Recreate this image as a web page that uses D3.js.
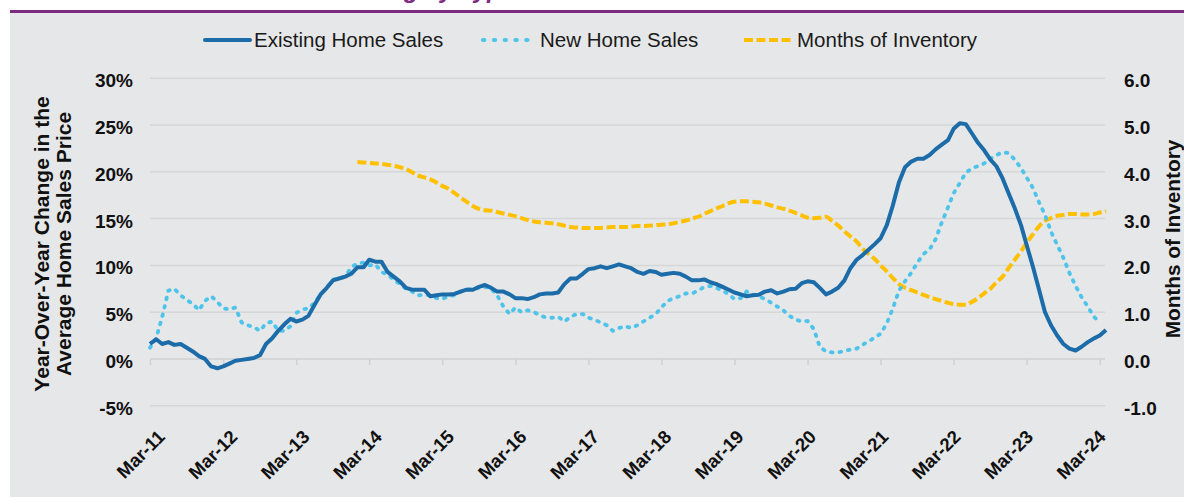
<!DOCTYPE html>
<html>
<head>
<meta charset="utf-8">
<script src="https://cdn.jsdelivr.net/npm/d3@7"></script>
<style>
  body { margin: 0; background: #fff; }
  svg { display: block; font-family: "Liberation Sans", Arial, sans-serif; }
</style>
</head>
<body>
<svg id="chart" width="1184" height="498"></svg>
<script>
// monthly values, existing starts Mar-11
const existingStart = "2011-03";
const existing = [1.6,2.1,1.6,1.8,1.5,1.6,1.2,0.8,0.3,0.0, -0.8,-1.0,-0.8,-0.5,-0.2,-0.1,0.0,0.1,0.4,1.6,
    2.2,3.0,3.7,4.3,4.0,4.2,4.6,5.8,6.9,7.6, 8.4,8.6,8.8,9.1,9.8,9.8,10.6,10.4,10.4,9.3,
    8.8,8.3,7.6,7.4,7.4,7.4,6.7,6.8,6.9,6.9, 6.95,7.2,7.4,7.4,7.7,7.9,7.6,7.2,7.2,6.9,
    6.5,6.5,6.4,6.6,6.9,7.0,7.0,7.1,8.0,8.6, 8.6,9.1,9.6,9.7,9.9,9.7,9.9,10.1,9.9,9.7,
    9.3,9.1,9.4,9.3,9.0,9.1,9.2,9.1,8.8,8.4, 8.4,8.5,8.2,8.0,7.7,7.4,7.1,6.9,6.7,6.8,
    6.85,7.2,7.35,7.0,7.2,7.45,7.5,8.1,8.3,8.2, 7.6,6.9,7.2,7.6,8.4,9.7,10.6,11.1,11.7,12.3,
    12.9,14.3,16.4,18.9,20.5,21.1,21.4,21.4,21.8,22.4, 22.9,23.4,24.6,25.2,25.1,24.1,23.1,22.3,21.3,20.6,
    19.3,17.7,16.1,14.3,12.2,9.9,7.5,5.0,3.6,2.5, 1.6,1.1,0.9,1.3,1.8,2.2,2.5,3.1];

const newStart = "2011-03";
const newSales = [1.2,2.2,4.5,7.3,7.5,6.8,6.3,5.9,5.2,6.2, 6.7,6.1,5.4,5.3,5.5,3.9,3.6,3.4,3.0,3.8,
    4.0,3.0,3.0,3.5,4.9,5.3,5.4,6.0,6.9,7.6, 8.5,8.6,8.8,9.8,10.2,10.3,10.0,10.1,9.3,9.0,
    8.5,8.0,7.5,7.2,6.8,6.85,6.8,6.5,6.4,6.7, 6.8,7.2,7.4,7.5,7.6,7.7,7.5,6.8,5.6,4.8,
    5.5,5.0,5.2,5.0,4.7,4.4,4.4,4.5,4.0,4.5, 4.8,4.8,4.4,4.2,3.9,3.6,3.0,3.3,3.5,3.3,
    3.6,4.0,4.4,4.8,5.5,6.2,6.5,6.7,7.0,7.0, 7.3,7.7,7.8,7.6,7.3,6.9,6.4,6.5,7.2,6.9,
    6.7,6.4,6.0,5.6,5.2,4.6,4.2,4.0,4.05,3.2, 1.3,0.8,0.7,0.7,0.85,1.0,1.1,1.5,1.9,2.3,
    2.7,3.8,5.4,7.3,8.3,9.2,10.3,11.2,11.7,12.8, 14.6,16.2,17.7,18.8,19.9,20.4,20.6,20.9,21.4,21.8,
    22.1,22.0,21.3,20.4,19.4,18.3,16.8,15.4,13.6,12.2, 10.8,9.2,7.8,6.6,5.6,4.5,3.9];

const inventoryStart = "2014-01";
const inventory = [4.21,4.2,4.19,4.18,4.17,4.15,
    4.13,4.10,4.06,3.99,3.92,3.88,3.84,3.77,3.70,3.64, 3.55,3.45,3.36,3.27,3.21,3.18,3.17,3.14,3.11,3.08,
    3.05,3.01,2.97,2.94,2.92,2.91,2.90,2.88,2.85,2.82, 2.81,2.80,2.80,2.80,2.80,2.81,2.82,2.82,2.82,2.83,
    2.84,2.84,2.85,2.86,2.87,2.88,2.90,2.93,2.96,3.0, 3.04,3.10,3.16,3.22,3.27,3.33,3.36,3.37,3.37,3.36,
    3.35,3.32,3.28,3.24,3.21,3.17,3.12,3.07,3.02,3.01, 3.02,3.04,2.95,2.85,2.73,2.62,2.51,2.36,2.24,2.13,
    2.0,1.87,1.73,1.60,1.52,1.47,1.42,1.37,1.32,1.28, 1.24,1.20,1.17,1.16,1.16,1.22,1.3,1.40,1.50,1.64,
    1.76,1.94,2.12,2.30,2.48,2.66,2.83,2.95,3.01,3.06, 3.08,3.10,3.10,3.09,3.09,3.10,3.13,3.16];

const leftTicks = [-5, 0, 5, 10, 15, 20, 25, 30];
const rightTicks = [-1, 0, 1, 2, 3, 4, 5, 6];
const yearTicks = ["2011-03","2012-03","2013-03","2014-03","2015-03","2016-03","2017-03",
    "2018-03","2019-03","2020-03","2021-03","2022-03","2023-03","2024-03"];

const colors = {existing: "#1b6ca8", newSales: "#4ec4ea", inventory: "#ffc000"};

const parseMonth = d3.timeParse("%Y-%m");
function toPoints(start, vals) {
    let s = parseMonth(start);
    return vals.map((v, i) => ({date: d3.timeMonth.offset(s, i), value: v}));
}

const svg = d3.select("#chart");

// backgrounds
svg.append("rect").attr("x", 10).attr("y", 12).attr("width", 1174).attr("height", 485).attr("fill", "#e6e7e8");
svg.append("rect").attr("x", 10).attr("y", 10).attr("width", 1174).attr("height", 3).attr("fill", "#7d2a80");

// title sits above the crop, only descenders show
let titleFont = {size: "24px", weight: "bold", style: "italic"};
let probe = svg.append("text")
    .style("font-size", titleFont.size).style("font-weight", titleFont.weight).style("font-style", titleFont.style)
    .text("Home Sales Pricin");
let prefixW = probe.node().getComputedTextLength();
probe.remove();
svg.append("text")
    .attr("x", 404 - prefixW)
    .attr("y", -2.5)
    .attr("fill", "#7d2a80")
    .style("font-size", titleFont.size)
    .style("font-weight", titleFont.weight)
    .style("font-style", titleFont.style)
    .text("Home Sales Pricing by Type");

const x = d3.scaleTime()
    .domain([parseMonth("2011-03"), parseMonth("2024-04")])
    .range([150, 1106]);
const yL = d3.scaleLinear().domain([-5, 30]).range([405.7, 78.3]);
const yR = d3.scaleLinear().domain([-1, 6]).range([405.7, 78.3]);

// grid
svg.append("g").selectAll("line").data(leftTicks).join("line")
    .attr("x1", 150).attr("x2", 1105)
    .attr("y1", d => yL(d)).attr("y2", d => yL(d))
    .attr("stroke", d => d === 0 ? "#d0d0d0" : "#d6d6d6")
    .attr("stroke-width", 1.5);

// x ticks at 0 line
let xAxis = d3.axisBottom(x)
    .tickValues(yearTicks.map(parseMonth))
    .tickSize(6)
    .tickFormat(d3.timeFormat("%b-%y"));
let gx = svg.append("g").attr("transform", `translate(0,${yL(0)})`).call(xAxis);
gx.select(".domain").remove();
gx.selectAll(".tick line").attr("stroke", "#d0d0d0").attr("stroke-width", 1.5);
gx.selectAll(".tick text").remove();

svg.append("g").selectAll("text").data(yearTicks.map(parseMonth)).join("text")
    .attr("transform", (d, i) => `translate(${x(d) + 16 - 0.7 * i},438) rotate(-45)`)
    .attr("text-anchor", "end")
    .style("font-size", "18.5px")
    .style("font-weight", "bold")
    .attr("fill", "#111")
    .text(d3.timeFormat("%b-%y"));

// left ticks
svg.append("g").selectAll("text").data(leftTicks).join("text")
    .attr("x", 133).attr("y", d => yL(d) + 9)
    .attr("text-anchor", "end")
    .style("font-size", "19px").style("font-weight", "bold")
    .attr("fill", "#111")
    .text(d => d + "%");

// right ticks
svg.append("g").selectAll("text").data(rightTicks).join("text")
    .attr("x", 1124).attr("y", d => yR(d) + 9)
    .style("font-size", "19px").style("font-weight", "bold")
    .attr("fill", "#111")
    .text(d => d.toFixed(1));

// axis titles
let lt = svg.append("text")
    .attr("transform", "translate(49,244) rotate(-90)")
    .attr("text-anchor", "middle")
    .style("font-size", "21px").style("font-weight", "bold")
    .attr("fill", "#111");
lt.append("tspan").attr("x", 0).attr("y", 0).text("Year-Over-Year Change in the");
lt.append("tspan").attr("x", 0).attr("y", 21.5).text("Average Home Sales Price");

svg.append("text")
    .attr("transform", "translate(1180,239) rotate(-90)")
    .attr("text-anchor", "middle")
    .style("font-size", "20.8px").style("font-weight", "bold")
    .attr("fill", "#111")
    .text("Months of Inventory");

// lines
let lineL = d3.line().x(d => x(d.date)).y(d => yL(d.value));
let lineR = d3.line().x(d => x(d.date)).y(d => yR(d.value)).curve(d3.curveMonotoneX);

svg.append("path").datum(toPoints(inventoryStart, inventory))
    .attr("d", lineR).attr("fill", "none")
    .attr("stroke", colors.inventory).attr("stroke-width", 4)
    .attr("stroke-dasharray", "9,3.5");

svg.append("path").datum(toPoints(newStart, newSales))
    .attr("d", lineL).attr("fill", "none")
    .attr("stroke", colors.newSales).attr("stroke-width", 3.8)
    .attr("stroke-linecap", "round")
    .attr("stroke-dasharray", "1.6,7");

svg.append("path").datum(toPoints(existingStart, existing))
    .attr("d", lineL).attr("fill", "none")
    .attr("stroke", colors.existing).attr("stroke-width", 4)
    .attr("stroke-linejoin", "round");

// legend
let legend = [
    {name: "Existing Home Sales", color: colors.existing, x1: 205, x2: 250, tx: 254, dash: null, cap: "round"},
    {name: "New Home Sales", color: colors.newSales, x1: 483, x2: 535, tx: 540, dash: "1.4,9.4", cap: "round"},
    {name: "Months of Inventory", color: colors.inventory, x1: 744, x2: 792, tx: 797, dash: "9,3.5", cap: "butt"}
];
let lg = svg.append("g").selectAll("g").data(legend).join("g");
lg.append("line")
    .attr("x1", d => d.x1).attr("x2", d => d.x2).attr("y1", 40).attr("y2", 40)
    .attr("stroke", d => d.color).attr("stroke-width", 4)
    .attr("stroke-linecap", d => d.cap)
    .attr("stroke-dasharray", d => d.dash);
lg.append("text")
    .attr("x", d => d.tx).attr("y", 47)
    .style("font-size", "20.5px")
    .attr("fill", "#1a1a1a")
    .text(d => d.name);
</script>
</body>
</html>
